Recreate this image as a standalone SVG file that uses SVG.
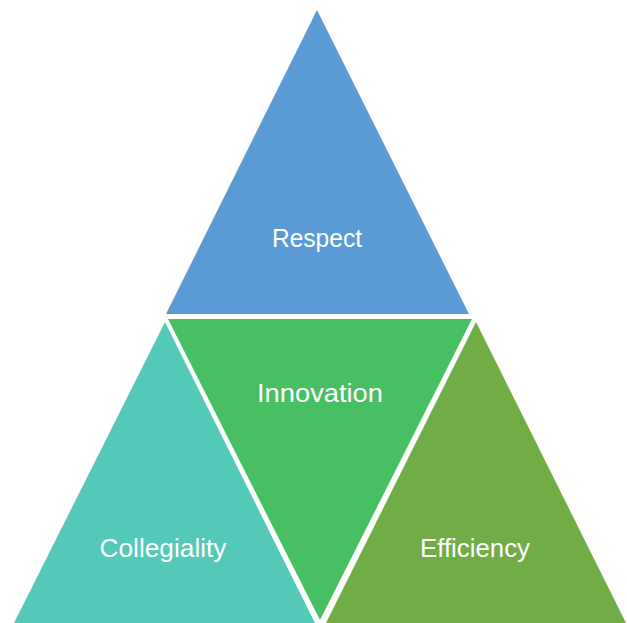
<svg xmlns="http://www.w3.org/2000/svg" width="627" height="623" viewBox="0 0 627 623">
<style>
.lbl{font-family:"Liberation Sans",Arial,sans-serif;font-size:25px;fill:#ffffff;text-anchor:middle}
</style>
<rect width="627" height="623" fill="#ffffff"/>
<g id="respect">
<polygon points="317,10 166,314 469,314" fill="#5B9BD5"/>
<text class="lbl" x="317" y="247" textLength="90" lengthAdjust="spacingAndGlyphs">Respect</text>
</g>
<g id="innovation">
<polygon points="168,319 472,319 320,620" fill="#48BF63"/>
<text class="lbl" x="320" y="402" textLength="126" lengthAdjust="spacingAndGlyphs">Innovation</text>
</g>
<g id="collegiality">
<polygon points="165,322 14,623 315,623" fill="#54C9B8"/>
<text class="lbl" x="163" y="557" textLength="127" lengthAdjust="spacingAndGlyphs">Collegiality</text>
</g>
<g id="efficiency">
<polygon points="476,322 326,623 626,623" fill="#70AD47"/>
<text class="lbl" x="475" y="557" textLength="110" lengthAdjust="spacingAndGlyphs">Efficiency</text>
</g>
<g id="connectors"/>
</svg>
